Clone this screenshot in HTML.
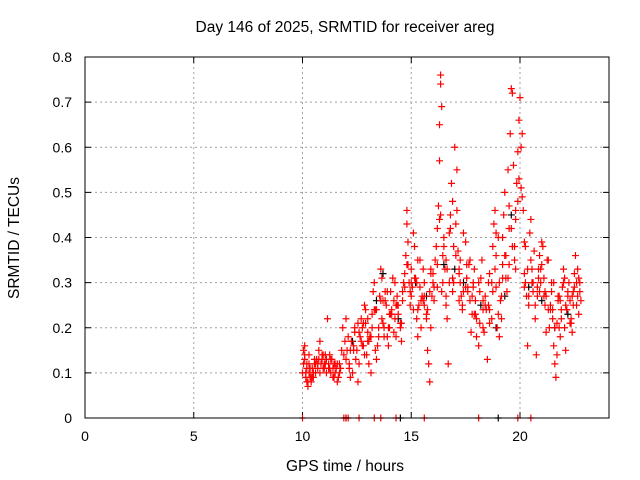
<!DOCTYPE html>
<html><head><meta charset="utf-8"><style>
body{margin:0;background:#fff}
svg{display:block;font-family:"Liberation Sans",sans-serif}
</style></head><body>
<svg id="c" width="640" height="480">
<rect width="640" height="480" fill="#fff"/>
<text x="345" y="32" text-anchor="middle" font-size="15.5">Day 146 of 2025, SRMTID for receiver areg</text>
<text x="345" y="471" text-anchor="middle" font-size="15.5">GPS time / hours</text>
<text transform="translate(19,238) rotate(-90)" text-anchor="middle" font-size="15.5">SRMTID / TECUs</text>
<g id="grid"></g><g id="axes"></g><g id="marks"></g>
<rect x="85" y="57" width="524" height="361" fill="none" stroke="#000" stroke-width="1"/>
</svg>
<script>
const xTicks=[0,5,10,15,20];
const yTicks=[0,0.1,0.2,0.3,0.4,0.5,0.6,0.7,0.8];
const yTickLabels=["0","0.1","0.2","0.3","0.4","0.5","0.6","0.7","0.8"];
const redT=[10.0,10.05,10.1,10.1,10.15,10.2,10.2,10.25,10.3,10.3,10.35,10.4,10.45,10.5,10.5,10.55,10.6,10.65,10.7,10.75,10.8,10.85,10.9,10.95,11.0,11.05,11.1,11.15,11.2,11.25,11.3,11.35,11.4,11.45,11.5,11.55,11.6,11.7,11.8,11.85,11.9,11.95,12.0,12.0,12.1,12.15,12.2,12.3,12.35,12.4,12.5,12.55,12.6,12.65,12.7,12.75,12.8,12.85,12.9,12.95,13.0,13.05,13.1,13.15,13.2,13.25,13.3,13.35,13.4,13.5,13.55,13.6,13.65,13.7,13.75,13.8,13.85,13.9,13.95,14.0,14.05,14.1,14.15,14.2,14.25,14.3,14.35,14.4,14.5,14.55,14.6,14.7,14.75,14.8,14.8,14.85,14.9,14.95,15.0,15.05,15.1,15.15,15.2,15.25,15.3,15.35,15.4,15.45,15.5,15.55,15.6,15.7,15.75,15.8,15.85,15.9,15.95,16.0,16.05,16.1,16.2,16.25,16.3,16.3,16.35,16.35,16.4,16.4,16.45,16.5,16.55,16.6,16.65,16.7,16.75,16.8,16.85,16.9,16.95,17.0,17.05,17.1,17.15,17.2,17.25,17.3,17.35,17.4,17.5,17.55,17.6,17.7,17.75,17.8,17.85,17.9,17.95,18.0,18.1,18.15,18.2,18.3,18.35,18.4,18.5,18.55,18.6,18.7,18.75,18.8,18.85,18.9,18.95,19.0,19.05,19.1,19.15,19.2,19.25,19.3,19.35,19.4,19.45,19.5,19.55,19.6,19.65,19.7,19.75,19.8,19.85,19.9,19.95,20.0,20.05,20.1,20.15,20.2,20.25,20.3,20.35,20.4,20.45,20.5,20.55,20.6,20.7,20.75,20.8,20.85,20.9,20.95,21.0,21.05,21.1,21.15,21.2,21.3,21.35,21.4,21.45,21.5,21.55,21.6,21.65,21.7,21.75,21.8,21.85,21.9,21.95,22.0,22.05,22.1,22.15,22.2,22.25,22.3,22.35,22.4,22.45,22.5,22.55,22.6,22.65,22.7,22.75,
10.0,11.9,12.0,12.1,12.6,13.3,13.6,14.3,15.6,18.1,19.9,20.5,
10.2,10.4,10.6,10.9,11.1,11.4,11.7,12.2,12.4,12.8,13.0,13.4,13.7,14.0,14.3,14.6,15.0,15.3,15.6,15.9,16.2,16.6,16.9,17.2,17.6,17.9,18.3,18.6,18.9,19.2,19.5,19.8,20.2,20.6,20.9,21.2,21.5,21.8,22.1,22.4,22.7,
10.05,10.15,10.25,10.35,10.45,10.55,10.7,10.8,10.95,11.05,11.2,11.3,11.5,11.65,11.75,12.05,12.25,12.45,12.6,12.75,12.9,13.05,13.2,13.35,13.5,13.65,13.8,13.95,14.1,14.25,14.4,14.55,14.7,14.85,15.0,15.15,15.3,15.45,15.6,15.75,15.9,16.05,16.2,16.35,16.5,16.65,16.8,16.95,17.1,17.25,17.4,17.55,17.7,17.85,18.0,18.15,18.3,18.45,18.6,18.75,18.9,19.05,19.2,19.35,19.5,19.65,19.8,19.95,20.1,20.25,20.4,20.55,20.7,20.85,21.0,21.15,21.3,21.45,21.6,21.75,21.9,22.05,22.2,22.35,22.5,22.65,22.8,
10.1,10.3,10.5,10.75,11.0,11.25,11.45,11.6,12.15,12.35,12.55,12.7,12.85,13.0,13.15,13.3,13.45,13.6,13.75,13.9,14.05,14.2,14.35,14.5,14.65,14.8,14.95,15.1,15.25,15.4,15.55,15.7,15.85,16.0,16.15,16.3,16.45,16.6,16.75,16.9,17.05,17.2,17.35,17.5,17.65,17.8,17.95,18.1,18.25,18.4,18.55,18.7,18.85,19.0,19.15,19.3,19.45,19.6,19.75,19.9,20.05,20.2,20.35,20.5,20.65,20.8,20.95,21.1,21.25,21.4,21.55,21.7,21.85,22.0,22.15,22.3,22.45,22.6,22.75];
const redV=[.1,.15,.13,.16,.09,.08,.12,.07,.1,.14,.09,.08,.11,.1,.09,.12,.1,.13,.11,.15,.17,.12,.13,.11,.12,.14,.1,.22,.12,.11,.1,.13,.09,.12,.1,.11,.08,.1,.15,.2,.14,.17,.22,.13,.18,.12,.09,.1,.16,.2,.15,.08,.12,.18,.22,.2,.16,.25,.24,.14,.19,.12,.18,.1,.23,.28,.3,.15,.13,.2,.27,.33,.31,.21,.18,.28,.25,.18,.16,.2,.28,.24,.31,.26,.22,.18,.27,.23,.2,.17,.26,.32,.36,.43,.46,.39,.3,.25,.33,.29,.41,.38,.31,.22,.18,.25,.29,.2,.27,.33,.25,.22,.15,.12,.08,.2,.27,.3,.26,.35,.42,.47,.57,.65,.76,.74,.69,.28,.36,.4,.33,.25,.22,.12,.3,.45,.52,.48,.38,.6,.43,.55,.37,.33,.3,.27,.24,.41,.39,.31,.28,.35,.19,.23,.29,.33,.26,.18,.16,.21,.31,.24,.19,.27,.13,.25,.21,.3,.38,.43,.46,.41,.2,.23,.18,.26,.22,.34,.45,.5,.36,.28,.55,.42,.63,.73,.72,.56,.38,.46,.52,.59,.66,.71,.6,.63,.46,.32,.38,.27,.16,.25,.41,.35,.3,.28,.22,.14,.27,.33,.36,.3,.39,.38,.31,.25,.19,.35,.2,.25,.28,.22,.16,.12,.09,.14,.26,.2,.18,.22,.29,.33,.2,.15,.24,.28,.3,.26,.22,.19,.25,.32,.36,.3,.27,.23,.28,
0,0,0,0,0,0,0,0,0,0,0,0,
.11,.09,.12,.14,.13,.11,.12,.15,.19,.21,.17,.24,.26,.23,.25,.28,.3,.24,.27,.32,.29,.27,.31,.26,.29,.23,.26,.24,.29,.31,.34,.33,.29,.3,.28,.27,.24,.27,.25,.27,.31,
.12,.1,.08,.11,.09,.13,.12,.1,.14,.12,.11,.13,.12,.09,.11,.15,.17,.13,.19,.16,.21,.17,.2,.24,.18,.22,.26,.2,.23,.3,.25,.21,.29,.34,.27,.31,.35,.26,.3,.24,.33,.29,.34,.45,.38,.33,.42,.3,.46,.35,.28,.34,.26,.3,.22,.28,.2,.24,.32,.28,.36,.3,.4,.31,.47,.38,.44,.53,.49,.3,.27,.33,.25,.31,.34,.28,.24,.3,.2,.27,.24,.31,.27,.21,.29,.33,.26,
.14,.12,.1,.13,.11,.14,.09,.12,.11,.15,.21,.17,.14,.22,.18,.24,.16,.26,.2,.28,.23,.19,.25,.21,.3,.34,.28,.24,.3,.35,.26,.23,.28,.32,.38,.44,.3,.35,.41,.28,.36,.32,.25,.29,.34,.27,.23,.3,.35,.25,.3,.22,.33,.4,.27,.36,.31,.42,.35,.48,.51,.39,.33,.44,.37,.29,.33,.27,.35,.24,.3,.21,.26,.3,.24,.21,.28,.25,.3];
const blackT=[12.3,13.4,13.7,14.4,15.2,15.7,16.5,17.0,17.4,18.2,18.9,19.3,19.6,20.4,21.0,21.6,22.2,12.0,14.5,19.0];
const blackV=[.17,.26,.32,.22,.3,.27,.34,.33,.3,.25,.2,.27,.45,.29,.26,.2,.23,0,0,0];
const X=t=>85+t*(522/24), Y=v=>418-v*(361/0.8);
const NS="http://www.w3.org/2000/svg";
const grid=document.getElementById('grid'),axes=document.getElementById('axes'),marks=document.getElementById('marks');
function mk(tag,at,p){const e=document.createElementNS(NS,tag);for(const k in at)e.setAttribute(k,at[k]);p.appendChild(e);return e;}
xTicks.forEach(t=>{const x=X(t);
 if(t>0){const g=mk('line',{x1:x,x2:x,y1:57,y2:418,stroke:'#a0a0a0','stroke-dasharray':'2,3'},grid);
 
 }
 mk('line',{x1:x,x2:x,y1:418,y2:412,stroke:'#000'},axes);mk('line',{x1:x,x2:x,y1:57,y2:63,stroke:'#000'},axes);
 const l=mk('text',{x:x,y:441,'text-anchor':'middle','font-size':'14'},axes);l.textContent=t;
 
 });
yTicks.forEach((v,i)=>{const y=Y(v);
 if(v>0&&v<0.8){const g=mk('line',{x1:85,x2:609,y1:y,y2:y,stroke:'#a0a0a0','stroke-dasharray':'2,3'},grid);
 
 }
 mk('line',{x1:85,x2:91,y1:y,y2:y,stroke:'#000'},axes);mk('line',{x1:603,x2:609,y1:y,y2:y,stroke:'#000'},axes);
 const l=mk('text',{x:72,y:y+5,'text-anchor':'end','font-size':'14'},axes);l.textContent=yTickLabels[i];
 
 });
function plus(t,v,col,name){const x=X(t),y=Y(v);
 const p=mk('path',{d:`M${x-3.5},${y}h7M${x},${y-3.5}v7`,stroke:col,'stroke-width':'1.2',fill:'none'},marks);
 
 }
blackT.forEach((t,i)=>plus(t,blackV[i],'#000','black-point'));
redT.forEach((t,i)=>plus(t,redV[i],'#f00','red-point'));
</script>
</body></html>
